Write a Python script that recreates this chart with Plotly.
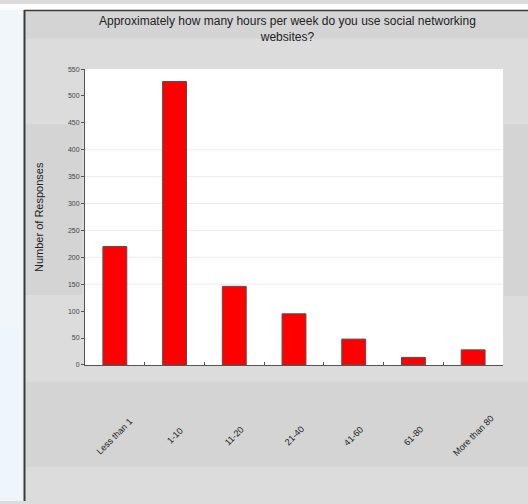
import plotly.graph_objects as go

W, H = 528, 504

categories = ["Less than 1", "1-10", "11-20", "21-40", "41-60", "61-80", "More than 80"]
responses = [220, 527, 146, 95, 48, 14, 28]
y_ticks = [0, 50, 100, 150, 200, 250, 300, 350, 400, 450, 500, 550]
grid_values = [150, 200, 250, 300, 350, 400]

title_text = "Approximately how many hours per week do you use social networking<br>websites?"
y_title = "Number of Responses"

FONT = "Liberation Sans, Arial, sans-serif"

def px(x):
    return x / W

def py(y):
    return 1 - y / H

fig = go.Figure()
fig.add_trace(go.Bar(
    x=categories, y=responses,
    marker=dict(color="#ff0000", line=dict(color="#505050", width=1)),
    hoverinfo="x+y",
))

shapes = []
# page background left of frame
shapes.append(dict(type="rect", xref="paper", yref="paper", x0=0, x1=px(24), y0=0, y1=1,
                   fillcolor="#f1f6fb", line=dict(width=0), layer="below"))
shapes.append(dict(type="rect", xref="paper", yref="paper", x0=0, x1=1, y0=py(6), y1=1,
                   fillcolor="#ffffff", line=dict(width=0), layer="below"))
shapes.append(dict(type="rect", xref="paper", yref="paper", x0=0, x1=px(24), y0=py(504), y1=py(330),
                   fillcolor="#eef5fc", line=dict(width=0), layer="below"))
# darker bands inside frame
band = "#d4d4d4"
shapes.append(dict(type="rect", xref="paper", yref="paper", x0=px(25), x1=1, y0=py(35), y1=py(7),
                   fillcolor=band, line=dict(width=0), layer="below"))
shapes.append(dict(type="rect", xref="paper", yref="paper", x0=px(25), x1=1, y0=py(469), y1=py(383),
                   fillcolor=band, line=dict(width=0), layer="below"))
shapes.append(dict(type="rect", xref="paper", yref="paper", x0=px(25), x1=px(82), y0=py(295), y1=py(122),
                   fillcolor=band, line=dict(width=0), layer="below"))
shapes.append(dict(type="rect", xref="paper", yref="paper", x0=px(504), x1=1, y0=py(296), y1=py(122),
                   fillcolor=band, line=dict(width=0), layer="below"))
# frame border
shapes.append(dict(type="line", xref="paper", yref="paper", x0=px(24.5), x1=px(24.5), y0=0, y1=py(6),
                   line=dict(color="#3a3a3a", width=2), layer="below"))
shapes.append(dict(type="line", xref="paper", yref="paper", x0=px(24), x1=1, y0=py(6.5), y1=py(6.5),
                   line=dict(color="#3a3a3a", width=1.5), layer="below"))
# faint gridlines
for g in grid_values:
    shapes.append(dict(type="line", xref="x domain", yref="y", x0=0, x1=1, y0=g, y1=g,
                       line=dict(color="#ececec", width=1), layer="below"))

annotations = [
    dict(text=title_text, xref="paper", yref="paper", x=px(287), y=py(8), xanchor="center", yanchor="top",
         showarrow=False, font=dict(family=FONT, size=12, color="#222222")),
    dict(text=y_title, xref="paper", yref="paper", x=px(39), y=py(216), textangle=-90,
         xanchor="center", yanchor="middle", showarrow=False,
         font=dict(family=FONT, size=11, color="#222222")),
]
for c in categories:
    annotations.append(dict(text=c, xref="x", yref="paper", x=c, y=py(438), textangle=-45,
                            xanchor="center", yanchor="middle", showarrow=False,
                            font=dict(family=FONT, size=9, color="#222222")))

fig.update_layout(
    width=W, height=H,
    margin=dict(l=0, r=0, t=0, b=0),
    paper_bgcolor="#dcdcdc",
    plot_bgcolor="#ffffff",
    bargap=0.6,
    showlegend=False,
    shapes=shapes,
    annotations=annotations,
    xaxis=dict(domain=[px(85), px(503)], showticklabels=False, ticks="inside", tickson="boundaries",
               ticklen=3, tickcolor="#555555", showline=True, linecolor="#555555", linewidth=1,
               showgrid=False, fixedrange=True),
    yaxis=dict(domain=[py(366), py(66)], range=[0, 550], tickvals=y_ticks, ticks="outside", ticklen=3,
               tickcolor="#555555", showline=True, linecolor="#555555", linewidth=1, showgrid=False,
               zeroline=False, tickfont=dict(family=FONT, size=7, color="#444444"), fixedrange=True),
)

fig.write_html("out.html")
